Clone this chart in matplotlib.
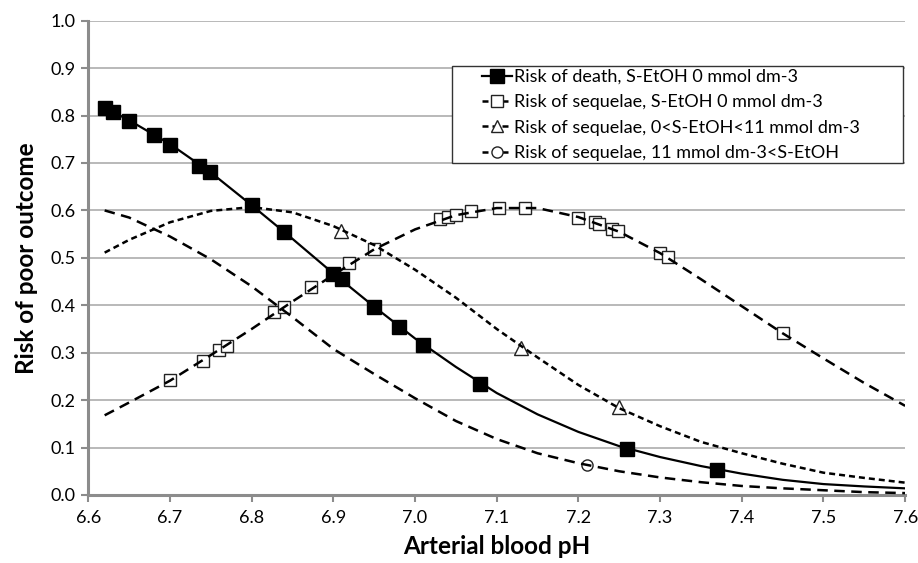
import matplotlib.pyplot as plt
from matplotlib.lines import Line2D
from matplotlib.patches import Rectangle

plt.rcParams['font.family'] = ['Lato', 'DejaVu Sans']

# fitted curves, every 0.05 pH
ph_curve = [6.62, 6.65, 6.70, 6.75, 6.80, 6.85, 6.90, 6.95, 7.00, 7.05, 7.10,
            7.15, 7.20, 7.25, 7.30, 7.35, 7.40, 7.45, 7.50, 7.55, 7.60]
death_curve = [0.817, 0.790, 0.740, 0.680, 0.611, 0.540, 0.467, 0.397, 0.330, 0.270, 0.215,
               0.170, 0.133, 0.103, 0.080, 0.061, 0.045, 0.032, 0.023, 0.018, 0.014]
seq0_curve = [0.168, 0.195, 0.241, 0.295, 0.350, 0.408, 0.464, 0.518, 0.560, 0.590, 0.605,
              0.605, 0.586, 0.555, 0.510, 0.455, 0.398, 0.341, 0.288, 0.236, 0.188]
seq_mid_curve = [0.511, 0.538, 0.575, 0.599, 0.607, 0.596, 0.567, 0.527, 0.475, 0.416, 0.350,
                 0.290, 0.232, 0.183, 0.145, 0.112, 0.088, 0.066, 0.047, 0.036, 0.026]
seq_high_curve = [0.600, 0.585, 0.545, 0.497, 0.440, 0.375, 0.308, 0.255, 0.204, 0.156, 0.118,
                  0.088, 0.067, 0.050, 0.037, 0.027, 0.019, 0.014, 0.010, 0.006, 0.004]

# observed points (markers)
death_x = [6.62, 6.63, 6.65, 6.68, 6.70, 6.736, 6.749, 6.80, 6.84, 6.90, 6.91,
           6.95, 6.98, 7.01, 7.08, 7.26, 7.37]
death_y = [0.816, 0.808, 0.789, 0.759, 0.739, 0.694, 0.680, 0.611, 0.555, 0.467, 0.455,
           0.397, 0.355, 0.316, 0.235, 0.097, 0.053]
seq0_x = [6.70, 6.74, 6.76, 6.77, 6.827, 6.84, 6.873, 6.919, 6.95, 7.03, 7.04, 7.05,
          7.069, 7.103, 7.135, 7.20, 7.22, 7.225, 7.241, 7.249, 7.30, 7.31, 7.45]
seq0_y = [0.242, 0.283, 0.305, 0.315, 0.386, 0.397, 0.438, 0.490, 0.519, 0.582, 0.587, 0.591,
          0.599, 0.606, 0.606, 0.585, 0.575, 0.571, 0.561, 0.557, 0.510, 0.502, 0.341]
seq_mid_x = [6.909, 7.13, 7.25]
seq_mid_y = [0.557, 0.310, 0.185]
seq_high_x = [7.21]
seq_high_y = [0.063]

labels = ["Risk of death, S-EtOH 0 mmol dm-3",
          "Risk of sequelae, S-EtOH 0 mmol dm-3",
          "Risk of sequelae, 0<S-EtOH<11 mmol dm-3",
          "Risk of sequelae, 11 mmol dm-3<S-EtOH"]

long_dash = (0, (4.2, 2.6))
short_dash = (0, (2.4, 1.6))

fig = plt.figure(figsize=(9.18, 5.63), dpi=100)
ax = fig.add_axes([0.0962, 0.1208, 0.8898, 0.8424])

# markers first, curves drawn over them
ax.plot(death_x, death_y, ls='none', marker='s', ms=10, mfc='black', mec='black', zorder=3)
ax.plot(seq0_x, seq0_y, ls='none', marker='s', ms=9, mfc='white', mec='#222222', mew=1, zorder=3)
ax.plot(seq_mid_x, seq_mid_y, ls='none', marker='^', ms=10, mfc='white', mec='#222222', mew=1, zorder=3)
ax.plot(seq_high_x, seq_high_y, ls='none', marker='o', ms=8, mfc='white', mec='#222222', mew=1, zorder=3)

ax.plot(ph_curve, death_curve, color='black', lw=1.6, zorder=4)
ax.plot(ph_curve, seq0_curve, color='black', lw=1.8, ls=long_dash, zorder=4)
ax.plot(ph_curve, seq_mid_curve, color='black', lw=1.8, ls=short_dash, zorder=4)
ax.plot(ph_curve, seq_high_curve, color='black', lw=1.8, ls=long_dash, zorder=4)

ax.set_xlim(6.6, 7.6)
ax.set_ylim(0, 1.0)
ax.set_xticks([6.6 + 0.1 * i for i in range(11)])
ax.set_yticks([0.1 * i for i in range(11)])
ax.set_xticklabels([f"{6.6 + 0.1 * i:.1f}" for i in range(11)])
ax.set_yticklabels([f"{0.1 * i:.1f}" for i in range(11)])
ax.tick_params(axis='both', labelsize=13, direction='out', length=5, width=1.5,
               color='#8c8c8c', pad=4)
ax.tick_params(axis='x', pad=6)

ax.grid(axis='y', color='#a6a6a6', lw=1.1)
ax.set_axisbelow(True)
for s in ['top', 'right']:
    ax.spines[s].set_visible(False)
for s in ['left', 'bottom']:
    ax.spines[s].set_color('#8c8c8c')
    ax.spines[s].set_linewidth(2.2)

ax.set_xlabel("Arterial blood pH", fontsize=17.5, fontweight='bold', labelpad=6)
ax.set_ylabel("Risk of poor outcome", fontsize=17.5, fontweight='bold', labelpad=9)

# legend box (Excel style: wide frame, entries inset)
ax.add_patch(Rectangle((0.445, 0.700), 0.5525, 0.2045, transform=ax.transAxes,
                       facecolor='white', edgecolor='#333333', lw=1.0, zorder=5,
                       clip_on=False))

handles = [
    Line2D([], [], color='black', lw=1.6, marker='s', ms=10, mfc='black', mec='black'),
    Line2D([], [], color='black', lw=1.8, ls=short_dash, marker='s', ms=9, mfc='white', mec='#222222'),
    Line2D([], [], color='black', lw=1.8, ls=short_dash, marker='^', ms=9, mfc='white', mec='#222222'),
    Line2D([], [], color='black', lw=1.8, ls=short_dash, marker='o', ms=8, mfc='white', mec='#222222'),
]
leg = ax.legend(handles, labels, loc='center left', bbox_to_anchor=(0.482, 0.801),
                fontsize=13, frameon=False, handlelength=1.65,
                handletextpad=0.1, labelspacing=0.52, borderpad=0, borderaxespad=0)
leg.set_zorder(6)

fig.savefig("out.png", dpi=100)
